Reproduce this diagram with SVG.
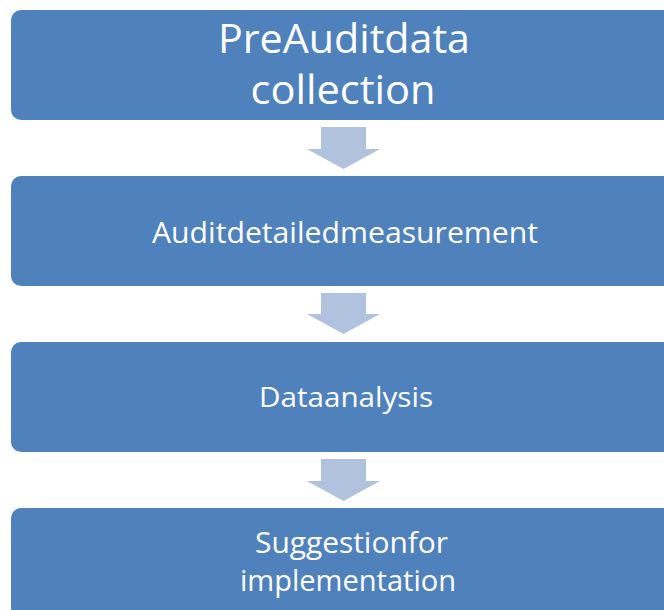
<svg xmlns="http://www.w3.org/2000/svg" width="664" height="610" viewBox="0 0 664 610">
  <style>
    .box { fill: #4F81BD; }
    .arrow { fill: #B0C2DE; }
    .lbl { font-family: "Open Sans", "Noto Sans", "Liberation Sans", sans-serif; fill: #FFFFFF; text-anchor: middle; }
  </style>
  <rect width="664" height="610" fill="#FFFFFF"/>
  <g id="connectors">
    <path class="arrow" d="M321,127 H366 V149 H380 L343.5,169 L307,149 H321 Z"/>
    <path class="arrow" d="M321,293 H366 V314 H380 L343.5,334 L307,314 H321 Z"/>
    <path class="arrow" d="M321,459 H366 V481 H380 L343.5,501 L307,481 H321 Z"/>
  </g>
  <g id="node1">
    <rect class="box" x="11" y="10" width="666" height="110" rx="10"/>
    <text class="lbl" x="344" y="53" font-size="40" textLength="252" lengthAdjust="spacingAndGlyphs">PreAuditdata</text>
    <text class="lbl" x="343" y="104" font-size="40" textLength="185" lengthAdjust="spacingAndGlyphs">collection</text>
  </g>
  <g id="node2">
    <rect class="box" x="11" y="176" width="666" height="110" rx="10"/>
    <text class="lbl" x="345" y="243" font-size="29" textLength="386" lengthAdjust="spacingAndGlyphs">Auditdetailedmeasurement</text>
  </g>
  <g id="node3">
    <rect class="box" x="11" y="342" width="666" height="110" rx="10"/>
    <text class="lbl" x="346" y="407" font-size="28" textLength="174" lengthAdjust="spacingAndGlyphs">Dataanalysis</text>
  </g>
  <g id="node4">
    <rect class="box" x="11" y="508" width="666" height="110" rx="10"/>
    <text class="lbl" x="351.5" y="553" font-size="29" textLength="193" lengthAdjust="spacingAndGlyphs">Suggestionfor</text>
    <text class="lbl" x="348" y="591" font-size="29" textLength="216" lengthAdjust="spacingAndGlyphs">implementation</text>
  </g>
</svg>
